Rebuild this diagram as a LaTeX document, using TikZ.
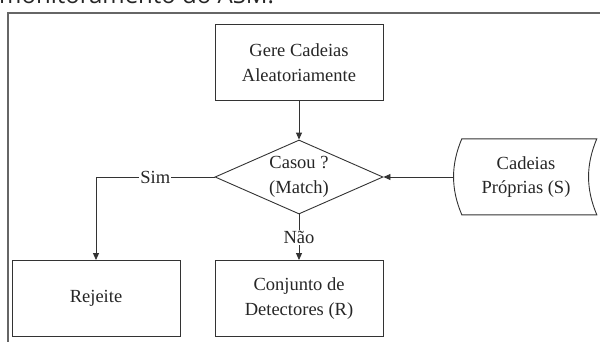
\documentclass[tikz,border=0pt]{standalone}
\usepackage{fontspec}
\setmainfont{Liberation Serif}
\newfontfamily\headfont{Open Sans}
\usetikzlibrary{shapes.geometric,arrows.meta}
\begin{document}
\begin{tikzpicture}[x=1pt,y=-1pt,
  every node/.style={font=\fontsize{18.5}{24.5}\selectfont, text=black!85},
  boxst/.style={draw=black!80, line width=0.9pt, rectangle, minimum width=168pt, minimum height=76pt, align=center, inner sep=0pt},
  decst/.style={draw=black!80, line width=0.9pt, diamond, aspect=2.27, minimum width=168pt, minimum height=74pt, align=center, inner sep=0pt},
  conn/.style={draw=black!80, line width=0.9pt},
  arr/.style={conn, -{Triangle[length=7pt,width=6pt]}},
  lab/.style={fill=white, inner sep=1pt}]
\useasboundingbox (0,0) rectangle (600,341);
\clip (0,0) rectangle (600,341);
% heading (cut off at top)
\node[anchor=base west, inner sep=0pt, font=\headfont\fontsize{24}{27}\selectfont, text=black!85] (head) at (-1,3.5) {monitoramento do ASM.};
% frame
\coordinate (fbl) at (8,345);
\coordinate (ftl) at (8,13);
\coordinate (ftr) at (610,13);
\draw[black!60, line width=1.3pt] (fbl) -- (ftl) -- (ftr);
% nodes
\node[boxst] (gere) at (299,62.5) {Gere Cadeias\\Aleatoriamente};
\node[decst] (match) at (299,177) {Casou ?\\(Match)};
\node[boxst] (rej) at (96,298.5) {Rejeite};
\node[boxst] (conj) at (299,298.5) {Conjunto de\\Detectores (R)};
\node[minimum width=144pt, minimum height=76pt, align=center, inner sep=0pt] (cad) at (526,177) {Cadeias\\Próprias (S)};
\draw[conn] (cad.north west) ++(8,0) coordinate (c1)
  .. controls ++(-11,26) and ++(-11,-26) .. ++(0,76) coordinate (c2)
  -- ++(135,0) coordinate (c3)
  .. controls ++(-11,-26) and ++(-11,26) .. ++(0,-76) coordinate (c4)
  -- cycle;
% connectors
\coordinate (simc) at (96,177);
\draw[arr] (gere.south) -- (match.north);
\draw[arr] (cad.west) -- (match.east);
\draw[conn] (match.west) -- node[lab]{Sim} (simc);
\draw[arr] (simc) -- (rej.north);
\draw[arr] (match.south) -- node[lab, pos=0.5]{Não} (conj.north);
\end{tikzpicture}
\end{document}
